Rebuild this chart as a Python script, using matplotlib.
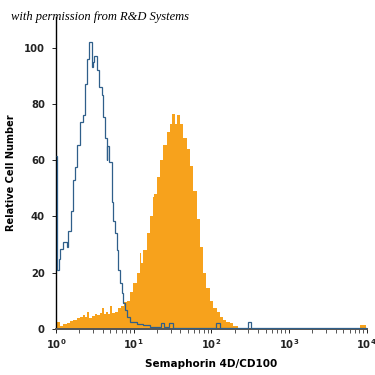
import matplotlib as mpl
mpl.use('Agg')
import numpy as np
import matplotlib.pyplot as plt
import matplotlib.ticker as mticker

###########################################
## data (log10 of intensity for bin edges, counts per bin)
ISO_EDGES = [0.000, 0.019, 0.039, 0.058, 0.094, 0.137, 0.158, 0.189, 0.215, 0.244,
             0.274, 0.309, 0.343, 0.377, 0.403, 0.428, 0.459, 0.476, 0.493, 0.523,
             0.557, 0.588, 0.608, 0.630, 0.652, 0.660, 0.686, 0.716, 0.737, 0.759,
             0.781, 0.801, 0.823, 0.845, 0.866, 0.887, 0.909, 0.952, 1.038, 1.123,
             1.209, 1.350, 1.390, 1.460, 1.510, 2.060, 2.110, 2.470, 2.510, 4.000]
ISO_COUNTS = [61.5, 21, 25, 28.5, 31, 29, 35, 42, 53,
              57.5, 65.5, 73.5, 76, 87, 96, 102, 93, 95, 97,
              92, 86, 83, 75.5, 68, 60, 65, 59.5, 45, 38.5,
              34, 28, 21, 16.3, 12.8, 9.2, 6.7, 4.4, 2.6, 1.8,
              1.3, 0.6, 2, 0.8, 2, 0.5, 2, 0.5, 2.5, 0.4]

SEMA_EDGES = [0.000, 0.051, 0.090, 0.138, 0.180, 0.223, 0.266, 0.309, 0.351, 0.373,
              0.399, 0.424, 0.463, 0.502, 0.527, 0.566, 0.592, 0.617, 0.643, 0.669,
              0.695, 0.720, 0.759, 0.797, 0.836, 0.874, 0.909, 0.952, 0.994, 1.038,
              1.080, 1.097, 1.123, 1.167, 1.209, 1.244, 1.260, 1.295, 1.338, 1.380,
              1.424, 1.466, 1.492, 1.531, 1.560, 1.595, 1.637, 1.681, 1.723, 1.766,
              1.810, 1.852, 1.895, 1.938, 1.981, 2.023, 2.067, 2.109, 2.152, 2.195,
              2.238, 2.280, 2.341, 2.495, 3.910, 3.987]
SEMA_COUNTS = [2.5, 1.2, 1.8, 2.2, 2.8, 3.3, 3.8, 4.2, 5,
               4.3, 6, 4, 4.6, 5.5, 4.8, 5.6, 7.4, 5.2, 6.2,
               5.4, 8, 5.6, 6.2, 7.3, 8, 9.5, 10, 13, 16.5,
               20, 27, 23.5, 28, 34, 40, 47, 48, 54, 60,
               65.5, 70, 73, 76.5, 73, 76, 73, 68, 64, 58,
               49, 39, 29, 20, 14.5, 10, 7.5, 6, 4.3, 3.2,
               2.6, 2, 1, 0.5, 0.3, 1.5]

Y_TICKS = [0, 20, 40, 60, 80, 100]
X_TICKS = [1, 10, 100, 1000, 10000]
X_TICK_LABELS = [r'$\mathbf{10^{0}}$', r'$\mathbf{10^{1}}$', r'$\mathbf{10^{2}}$',
                 r'$\mathbf{10^{3}}$', r'$\mathbf{10^{4}}$']

ORANGE = '#F7A21C'
BLUE = '#2F5F8A'

###########################################
fig = plt.figure(figsize=(3.75, 3.75), dpi=100)
ax = fig.add_axes([0.149, 0.1227, 0.829, 0.832])

ax.stairs(SEMA_COUNTS, 10 ** np.array(SEMA_EDGES), fill=True, color=ORANGE, zorder=2)
ax.stairs(ISO_COUNTS, 10 ** np.array(ISO_EDGES), baseline=None, color=BLUE, lw=0.9, zorder=3)

ax.set_xscale('log')
ax.set_xlim(1, 1e4)
ax.set_ylim(0, 110.9)

ax.xaxis.set_major_locator(mticker.FixedLocator(X_TICKS))
ax.xaxis.set_major_formatter(mticker.FixedFormatter(X_TICK_LABELS))
ax.xaxis.set_minor_locator(mticker.LogLocator(base=10, subs=np.arange(2, 10)))
ax.xaxis.set_minor_formatter(mticker.NullFormatter())
ax.set_yticks(Y_TICKS)

for s in ['top', 'right']:
  ax.spines[s].set_visible(False)
ax.spines['left'].set_linewidth(1.0)
ax.spines['bottom'].set_color('#555555')
ax.spines['bottom'].set_linewidth(1.4)

ax.tick_params(axis='y', length=3, width=0.7, pad=5, labelsize=7.2, colors='#222222')
ax.tick_params(axis='x', which='major', length=3, width=0.7, pad=3, labelsize=7.2, colors='#222222')
ax.tick_params(axis='x', which='minor', length=3, width=0.7, colors='#555555')
for lab in ax.get_yticklabels():
  lab.set_fontweight('bold')

ax.set_ylabel('Relative Cell Number', fontsize=7, fontweight='bold', labelpad=6)
ax.set_xlabel('Semaphorin 4D/CD100', fontsize=7.5, fontweight='bold', labelpad=6)

fig.text(0.03, 1 - 17 / 375., 'with permission from R&D Systems', fontsize=9,
         family='Liberation Serif', style='italic', va='center', ha='left')

plt.savefig('out.png', dpi=100)
plt.close()
